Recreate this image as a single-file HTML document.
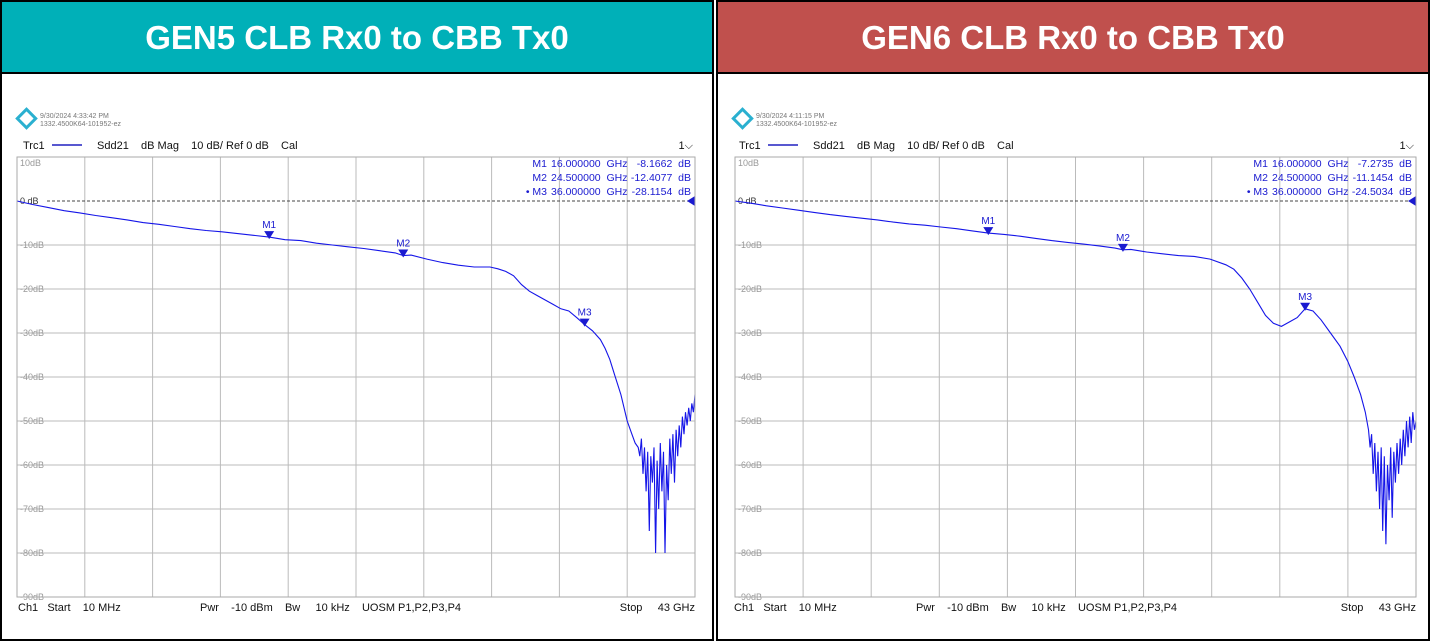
<!DOCTYPE html>
<html><head><meta charset="utf-8">
<style>
body{margin:0;width:1430px;height:641px;background:#fff;overflow:hidden;font-family:"Liberation Sans",sans-serif;}
svg{display:block}
text{white-space:pre}
</style></head>
<body>
<svg id="root" width="1430" height="641" xmlns="http://www.w3.org/2000/svg"></svg>
<script>
// GEN5 data (frequency GHz, dB)
const gen5Freq = [0.01,1,2,3,4,5,6,7,8,9,10,11,12,13,14,15,16,17,18,19,20,21,22,23,24,24.5,25,26,27,28,29,30,30.5,31,31.5,32,32.5,33,33.5,34,34.5,35,35.5,36,36.5,37,37.3,37.6,37.9,38.3,38.7,39.0,39.2,39.4,39.5,39.6,39.7,39.8,39.9,40.0,40.1,40.2,40.3,40.4,40.5,40.6,40.7,40.8,40.9,41.0,41.1,41.2,41.3,41.4,41.5,41.6,41.7,41.8,41.9,42.0,42.1,42.2,42.3,42.4,42.5,42.6,42.7,42.8,42.9,43];
const gen5dB = [0,-0.8,-1.5,-2.2,-2.7,-3.3,-3.8,-4.3,-4.9,-5.3,-5.8,-6.3,-6.7,-7.0,-7.4,-7.8,-8.2,-8.8,-9.0,-9.6,-10.0,-10.4,-10.8,-11.3,-11.8,-12.4,-12.3,-13.2,-14.0,-14.6,-15.0,-15.0,-15.4,-16.0,-17.0,-19.0,-20.5,-21.5,-22.5,-23.5,-24.5,-25.0,-26.5,-28.1,-29.5,-31.5,-33.5,-36.0,-39.5,-44.0,-50.0,-53.0,-55.0,-56.0,-58.0,-54.0,-62.0,-56.0,-66.0,-57.0,-75.0,-58.0,-64.0,-56.0,-80.0,-59.0,-70.0,-55.0,-66.0,-57.0,-80.0,-60.0,-68.0,-54.0,-62.0,-53.0,-64.0,-52.0,-58.0,-51.0,-56.0,-49.0,-53.0,-48.0,-51.0,-47.0,-50.0,-46.0,-48.0,-44.0];
// GEN6 data
const gen6Freq = [0.01,1,2,3,4,5,6,7,8,9,10,11,12,13,14,15,16,17,18,19,20,21,22,23,24,24.5,25,26,27,28,29,30,31,31.5,32,32.5,33,33.5,34,34.5,35,35.5,36,36.5,37,37.6,38.2,38.7,39.1,39.5,39.8,40.0,40.1,40.2,40.3,40.4,40.5,40.6,40.7,40.8,40.9,41.0,41.1,41.2,41.3,41.4,41.5,41.6,41.7,41.8,41.9,42.0,42.1,42.2,42.3,42.4,42.5,42.6,42.7,42.8,42.9,43];
const gen6dB = [0,-0.5,-1.1,-1.6,-2.1,-2.6,-3.1,-3.5,-3.9,-4.3,-4.8,-5.2,-5.5,-5.9,-6.3,-6.8,-7.3,-7.6,-8.0,-8.5,-9.0,-9.4,-9.8,-10.2,-10.7,-11.1,-11.0,-11.6,-12.0,-12.4,-12.6,-13.2,-14.5,-15.5,-17.5,-20.0,-23.0,-26.0,-27.8,-28.5,-27.5,-26.5,-24.5,-25.0,-27.0,-30.0,-33.0,-36.5,-40.0,-44.0,-48.0,-52.0,-56.0,-53.0,-62.0,-55.0,-66.0,-57.0,-70.0,-56.0,-75.0,-58.0,-78.0,-60.0,-68.0,-56.0,-72.0,-57.0,-64.0,-55.0,-62.0,-54.0,-60.0,-52.0,-58.0,-50.0,-56.0,-49.0,-55.0,-48.0,-52.0,-50.0];
const yTicks = [10,0,-10,-20,-30,-40,-50,-60,-70,-80,-90];
const yTickLabels = ["10dB","0 dB","-10dB","-20dB","-30dB","-40dB","-50dB","-60dB","-70dB","-80dB","-90dB"];
const gen5Markers = [16,24.5,36];
const gen5MarkerVals = ["-8.1662","-12.4077","-28.1154"];
const gen6Markers = [16,24.5,36];
const gen6MarkerVals = ["-7.2735","-11.1454","-24.5034"];
const markerNames = ["M1","M2","M3"];
const markerFreqLabels = ["16.000000","24.500000","36.000000"];

const NS="http://www.w3.org/2000/svg";
const root=document.getElementById('root');
function mk(tag,attrs,parent,text){const e=document.createElementNS(NS,tag);for(const k in attrs)e.setAttribute(k,attrs[k]);if(text!==undefined)e.textContent=text;(parent||root).appendChild(e);return e;}

function interp(fr,db,f){for(let i=1;i<fr.length;i++){if(f<=fr[i]){const t=(f-fr[i-1])/(fr[i]-fr[i-1]);return db[i-1]+t*(db[i]-db[i-1]);}}return db[db.length-1];}

function panel(ox,title,color,stamp,freq,db,markers,mvals,key){
  const g=mk('g',{},root);
  
  
  const hdr=mk('rect',{x:ox,y:0,width:714,height:73,fill:color},g);
  
  
  const tt=mk('text',{x:ox+357,y:49,'text-anchor':'middle','font-size':33,'font-weight':'bold',fill:'#fff'},g,title);
  
  
  mk('line',{x1:ox,y1:73,x2:ox+714,y2:73,stroke:'#000','stroke-width':2},g);
  const lg=mk('g',{},g);
  
  
  mk('rect',{x:ox+20,y:112,width:13,height:13,fill:'#fff',stroke:'#2ab0d0','stroke-width':3,transform:`rotate(45 ${ox+26.5} ${118.5})`},lg);
  mk('text',{x:ox+40,y:118,'font-size':7,fill:'#777'},g,stamp);
  mk('text',{x:ox+40,y:126,'font-size':7,fill:'#777'},g,'1332.4500K64-101952-ez');
  const x0=ox+(key==='gen5'?17:19), x1=ox+(key==='gen5'?695:700), y0=157, y1=597;
  const X=f=>x0+(f-0.01)/(43-0.01)*(x1-x0);
  const Y=d=>y0+(10-d)/100*(y1-y0);
  const th=mk('text',{x:ox+23,y:149,'font-size':11,fill:'#111'},g,'Trc1');
  
  
  mk('line',{x1:ox+52,y1:145,x2:ox+82,y2:145,stroke:'#2020c0','stroke-width':1.5},g);
  mk('text',{x:ox+97,y:149,'font-size':11,fill:'#111'},g,'Sdd21    dB Mag    10 dB/ Ref 0 dB    Cal');
  const ch=mk('text',{x:x1-2,y:149,'font-size':11,fill:'#111','text-anchor':'end'},g,'1⌵');
  
  
  const gr=mk('g',{},g);
  
  
  for(let i=0;i<=10;i++){const x=x0+i*(x1-x0)/10;mk('line',{x1:x,y1:y0,x2:x,y2:y1,stroke:'#bbb','stroke-width':1},gr);}
  yTicks.forEach((t,i)=>{const y=Y(t);
    if(t!==0)mk('line',{x1:x0,y1:y,x2:x1,y2:y,stroke:'#bbb','stroke-width':1},gr);
    const lb=mk('text',{x:x0+3,y:y+(t===10?9:3),'font-size':9,fill:t===0?'#333':'#999'},g,yTickLabels[i]);
    
    
  });
  mk('line',{x1:x0+30,y1:Y(0),x2:x1,y2:Y(0),stroke:'#444','stroke-width':1,'stroke-dasharray':'3,2'},g);
  mk('polygon',{points:`${x1},${Y(0)-5} ${x1},${Y(0)+5} ${x1-8},${Y(0)}`,fill:'#1a1ad0'},g);
  const pts=freq.map((f,i)=>X(f).toFixed(1)+','+Y(db[i]).toFixed(1)).join(' ');
  const tr=mk('polyline',{points:pts,fill:'none',stroke:'#1515e8','stroke-width':1.1},g);
  
  
  markers.forEach((f,i)=>{const x=X(f),y=Y(interp(freq,db,f));
    const m=mk('polygon',{points:`${x-5},${y-6} ${x+5},${y-6} ${x},${y+2}`,fill:'#1a1ad0'},g);
    
    
    mk('text',{x:x,y:y-9,'font-size':10,fill:'#1a1ad0','text-anchor':'middle'},g,markerNames[i]);
    const ty=167+i*14;
    mk('text',{x:x1-148,y:ty,'font-size':10.5,fill:'#1a1ad0','text-anchor':'end'},g,(i===2?'• ':'')+markerNames[i]);
    mk('text',{x:x1-144,y:ty,'font-size':10.5,fill:'#1a1ad0'},g,markerFreqLabels[i]+'  GHz');
    mk('text',{x:x1-4,y:ty,'font-size':10.5,fill:'#1a1ad0','text-anchor':'end'},g,mvals[i]+'  dB');
  });
  mk('rect',{x:x0,y:y0,width:x1-x0,height:y1-y0,fill:'none',stroke:'#aaa'},g);
  mk('text',{x:ox+18,y:611,'font-size':11,fill:'#111'},g,'Ch1   Start    10 MHz');
  mk('text',{x:ox+200,y:611,'font-size':11,fill:'#111'},g,'Pwr    -10 dBm    Bw     10 kHz    UOSM P1,P2,P3,P4');
  mk('text',{x:x1,y:611,'font-size':11,fill:'#111','text-anchor':'end'},g,'Stop     43 GHz');
  mk('rect',{x:ox+1,y:1,width:712,height:639,fill:'none',stroke:'#000','stroke-width':2},g);
}
panel(0,'GEN5 CLB Rx0 to CBB Tx0','#00b0b8','9/30/2024 4:33:42 PM',gen5Freq,gen5dB,gen5Markers,gen5MarkerVals,'gen5');
panel(716,'GEN6 CLB Rx0 to CBB Tx0','#c0504d','9/30/2024 4:11:15 PM',gen6Freq,gen6dB,gen6Markers,gen6MarkerVals,'gen6');
</script>
</body></html>
